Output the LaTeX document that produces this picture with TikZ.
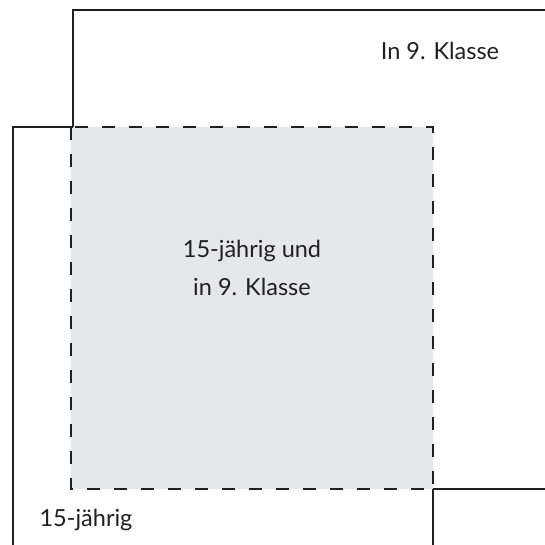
\documentclass[tikz,border=0pt]{standalone}
\usepackage{fontspec}
\setmainfont{Lato}
\definecolor{linec}{HTML}{231F20}
\definecolor{fillc}{HTML}{E6E7E8}
\begin{document}
\begin{tikzpicture}[x=1pt,y=-1pt,
  solidline/.style={draw=linec,line width=2.9pt},
  dashline/.style={draw=linec,line width=2.9pt,dash pattern=on 13pt off 14pt},
  lbl/.style={font=\fontsize{23.5}{38}\selectfont,text=linec,inner sep=0pt}]
\useasboundingbox (0,0) rectangle (545,545);
% named corner coordinates
\coordinate (k1) at (73,127);
\coordinate (k2) at (73,10);
\coordinate (k3) at (545,10);
\coordinate (k4) at (433,489);
\coordinate (k5) at (545,489);
\coordinate (j1) at (13,545);
\coordinate (j2) at (13,127);
\coordinate (j3) at (73,127);
\coordinate (j4) at (433,545);
\coordinate (g1) at (71,127);
\coordinate (g2) at (433,489);
% shared region
\fill[fillc] (g1) rectangle (g2);
% In 9. Klasse set
\draw[solidline] (k1) -- (k2) -- (k3);
\draw[solidline] (k4) -- (k5);
% 15-jaehrig set
\draw[solidline] (j1) -- (j2) -- (j3);
\draw[solidline] (k4) -- (j4);
% dashed intersection outline
\draw[dashline] (g1) rectangle (g2);
% labels
\node[lbl] (klasse) at (440,51) {In 9. Klasse};
\node[lbl,align=center] (both) at (252,268) {15-jährig und\\in 9. Klasse};
\node[lbl] (alter) at (86,520) {15-jährig};
\end{tikzpicture}
\end{document}
